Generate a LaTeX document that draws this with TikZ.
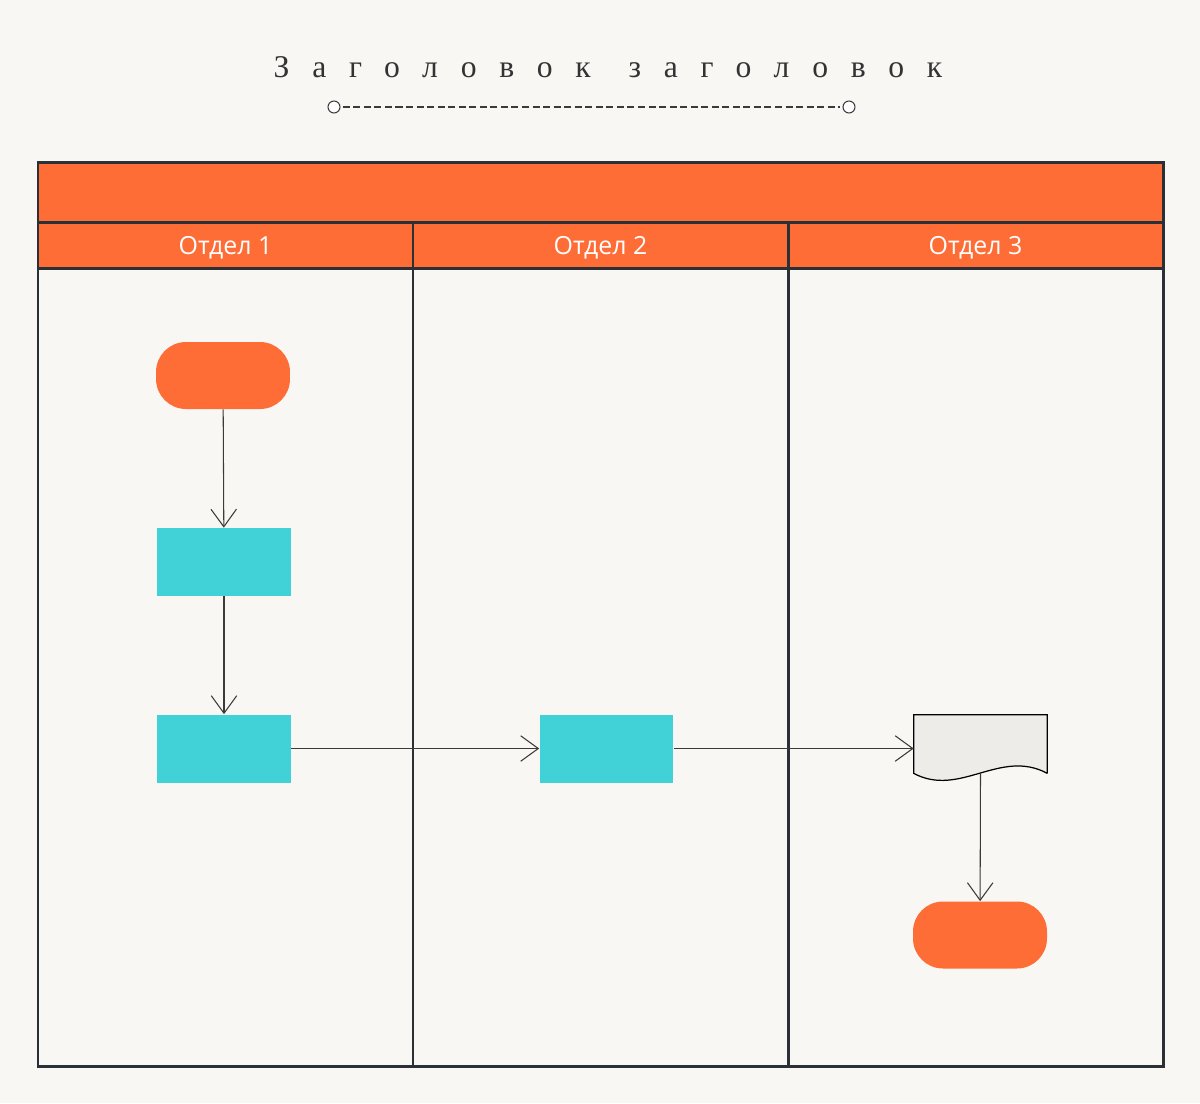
\documentclass[tikz,border=0pt]{standalone}
\usepackage{fontspec}
\setmainfont{Open Sans}
\newfontfamily\titlefont[LetterSpace=72]{Liberation Serif}
\usepackage{tikz}
\usetikzlibrary{arrows.meta}
\usepackage{xcolor}
\definecolor{paper}{HTML}{F8F7F4}
\definecolor{laneorange}{HTML}{FF6D37}
\definecolor{stepcyan}{HTML}{40D2D6}
\definecolor{docgray}{HTML}{EDECE8}
\definecolor{frameline}{HTML}{2B2F36}
\definecolor{flowline}{HTML}{3A3A3A}

\begin{document}
\begin{tikzpicture}[x=0.02cm,y=-0.02cm,>={Straight Barb[length=10pt,width=14.5pt]},
  terminal/.style={fill=laneorange,minimum width=2.68cm,minimum height=1.34cm,rounded corners=0.6cm,inner sep=0pt},
  stepbox/.style={fill=stepcyan,minimum width=2.68cm,minimum height=1.36cm,inner sep=0pt},
  lanehead/.style={text=white,font=\fontsize{14.2}{16}\selectfont},
  flow/.style={->,draw=flowline,line width=0.6pt}]
\fill[paper] (0,0) rectangle (1200,1103);
\useasboundingbox (0,0) rectangle (1200,1103);
\node[font=\titlefont\fontsize{18}{21}\selectfont,text=black!80] (title) at (608,67) {Заголовок\hspace{4pt} заголовок};
\coordinate (dl) at (334,107);
\coordinate (dr) at (849,107);
\draw[flowline,line width=0.6pt,dash pattern=on 4pt off 2pt,shorten <=5pt,shorten >=5pt] (dl) -- (dr);
\draw[flowline,line width=0.6pt,fill=white] (dl) circle (0.12cm) (dr) circle (0.12cm);
\fill[laneorange] (38,162) rectangle (1163,268);
\draw[frameline,line width=1.7pt] (38,162) rectangle (1163,1066);
\draw[frameline,line width=1.7pt] (38,222) -- (1163,222);
\draw[frameline,line width=1.7pt] (38,268) -- (1163,268);
\draw[frameline,line width=1.7pt] (413,222) -- (413,1066);
\draw[frameline,line width=1.7pt] (788,222) -- (788,1066);
\node[lanehead] (head1) at (225.5,248) {Отдел 1};
\node[lanehead] (head2) at (600.5,248) {Отдел 2};
\node[lanehead] (head3) at (975.5,248) {Отдел 3};
\node[terminal] (start) at (223,375.5) {};
\node[stepbox] (s1) at (224,562) {};
\node[stepbox] (s2) at (224,748.5) {};
\node[stepbox] (s3) at (606.5,748.5) {};
\node[inner sep=0pt,minimum width=2.66cm,minimum height=1.16cm] (doc) at (980.5,744) {};
\filldraw[fill=docgray,draw=black,line width=0.7pt] (doc.south east) -- (doc.north east) -- (doc.north west) -- (doc.south west)
  .. controls (960,798) and (1000,748) .. (doc.south east);
\node[terminal] (stop) at (980,935) {};
\draw[flow] (start) -- (s1);
\draw[flow] (s1) -- (s2);
\draw[flow] (s2) -- (s3);
\draw[flow] (s3.east) -- (s3.east -| doc.west);
\draw[flow] (doc.south) -- (stop);
\end{tikzpicture}
\end{document}
